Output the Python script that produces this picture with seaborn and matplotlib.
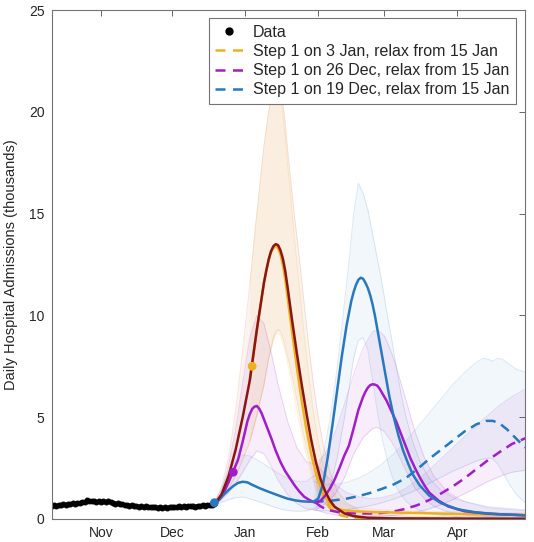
import matplotlib
matplotlib.use("Agg")
import matplotlib.pyplot as plt
import matplotlib.dates as mdates
from matplotlib.lines import Line2D
import pandas as pd
import seaborn as sns

sns.set_style("white")
plt.rcParams["font.family"] = ["Liberation Sans", "DejaVu Sans"]

base = pd.Timestamp("2020-10-11")

# observed daily admissions (thousands), one per day from 11 Oct
data_vals = [0.64, 0.68, 0.66, 0.70, 0.68, 0.72, 0.70, 0.74, 0.72, 0.77,
             0.75, 0.80, 0.78, 0.85, 0.82, 0.92, 0.88, 0.86, 0.90, 0.84,
             0.87, 0.82, 0.86, 0.83, 0.88, 0.84, 0.80, 0.76, 0.78, 0.74,
             0.72, 0.68, 0.70, 0.66, 0.68, 0.63, 0.66, 0.61, 0.64, 0.60,
             0.62, 0.58, 0.61, 0.57, 0.60, 0.56, 0.59, 0.55, 0.58, 0.56,
             0.59, 0.57, 0.61, 0.58, 0.62, 0.59, 0.63, 0.60, 0.65, 0.62,
             0.64, 0.61, 0.66, 0.63, 0.67, 0.65, 0.69, 0.67, 0.71, 0.73]

# model curves, x = days since 11 Oct
red_days = [0, 7, 14, 21, 28, 35, 42, 49, 56, 63, 69, 72, 75, 78, 81, 84, 87, 90, 91, 92,
            93, 94, 95, 96, 97, 98, 99, 100, 102, 104, 106, 108, 110, 112, 114, 116, 118, 120, 124, 128,
            134, 145, 201]
red_vals = [0.64, 0.73, 0.84, 0.86, 0.77, 0.66, 0.60, 0.57, 0.61, 0.64, 0.72, 1.2, 2.1, 3.4, 5.0, 6.8, 9.3, 11.6, 12.2, 12.75,
            13.15, 13.4, 13.5, 13.45, 13.2, 12.8, 12.2, 11.4, 9.7, 8.1, 6.6, 5.2, 3.9, 2.8, 1.95, 1.35, 0.9, 0.6, 0.28, 0.14,
            0.06, 0.03, 0.01]

yel_days = [84, 87, 90, 91, 92, 93, 94, 95, 96, 97, 98, 99, 100, 102, 104, 106, 108, 110, 112, 114,
            116, 118, 120, 124, 130, 140, 160, 180, 201]
yel_vals = [6.8, 9.3, 11.6, 12.2, 12.7, 13.1, 13.3, 13.42, 13.3, 13.0, 12.5, 11.8, 10.9, 9.1, 7.4, 5.8, 4.4, 3.2, 2.25, 1.55,
            1.05, 0.72, 0.55, 0.42, 0.37, 0.33, 0.28, 0.23, 0.2]
yel_dash_days = [112, 114, 116, 118, 120, 123, 127, 135, 150, 201]
yel_dash_vals = [2.25, 1.45, 0.9, 0.55, 0.32, 0.16, 0.07, 0.03, 0.01, 0.0]

pur_days = [69, 71, 73, 75, 77, 79, 81, 83, 84, 85, 86, 87, 88, 89, 90, 91, 93, 95, 97, 99,
            101, 103, 105, 107, 109, 111, 112, 114, 116, 118, 120, 122, 124, 126, 128, 130, 132, 133, 134, 135,
            136, 137, 138, 139, 140, 142, 144, 146, 148, 150, 152, 154, 156, 158, 160, 164, 168, 175, 185, 201]
pur_vals = [0.72, 0.95, 1.3, 1.8, 2.35, 2.9, 3.8, 4.8, 5.15, 5.4, 5.52, 5.55, 5.42, 5.2, 4.9, 4.6, 4.0, 3.35, 2.8, 2.35,
            2.0, 1.65, 1.35, 1.1, 0.95, 0.83, 0.8, 0.9, 1.15, 1.5, 1.95, 2.5, 3.1, 3.6, 4.45, 5.35, 6.0, 6.25, 6.45, 6.57,
            6.62, 6.6, 6.55, 6.4, 6.2, 5.8, 5.3, 4.8, 4.2, 3.6, 3.0, 2.5, 2.05, 1.65, 1.3, 0.9, 0.62, 0.38, 0.26, 0.18]
pur_dash_days = [112, 114, 116, 118, 121, 125, 130, 135, 140, 145, 150, 155, 160, 165, 170, 175, 180, 185, 190, 195, 201]
pur_dash_vals = [0.8, 0.62, 0.5, 0.42, 0.35, 0.3, 0.27, 0.27, 0.3, 0.37, 0.5, 0.68, 0.93, 1.25, 1.6, 2.0, 2.45, 2.9, 3.3, 3.68, 3.98]

blu_days = [69, 71, 73, 75, 77, 79, 81, 83, 85, 88, 91, 94, 97, 100, 103, 106, 109, 111, 113, 115,
            117, 119, 121, 123, 125, 127, 128, 129, 130, 131, 132, 133, 134, 135, 136, 137, 139, 141, 143, 145,
            147, 149, 151, 153, 156, 160, 165, 172, 180, 190, 201]
blu_vals = [0.75, 0.95, 1.2, 1.42, 1.62, 1.77, 1.83, 1.8, 1.68, 1.52, 1.38, 1.25, 1.12, 1.0, 0.92, 0.87, 0.85, 0.85, 1.0, 1.7,
            3.0, 4.6, 6.3, 8.0, 9.5, 10.7, 11.15, 11.5, 11.75, 11.85, 11.8, 11.6, 11.35, 11.0, 10.55, 10.0, 8.7, 7.4, 6.1, 5.0,
            4.1, 3.35, 2.75, 2.2, 1.65, 1.15, 0.78, 0.48, 0.32, 0.23, 0.18]
blu_dash_days = [111, 115, 120, 125, 130, 135, 140, 145, 150, 155, 160, 165, 170, 175, 180, 184, 187, 190, 193, 196, 199, 201]
blu_dash_vals = [0.85, 0.87, 0.92, 1.0, 1.12, 1.28, 1.48, 1.7, 2.0, 2.45, 2.95, 3.4, 3.85, 4.3, 4.65, 4.82, 4.82, 4.68, 4.4, 4.05, 3.7, 3.5]

# uncertainty bands
red_band_days = [69, 72, 75, 78, 81, 84, 87, 90, 92, 94, 95, 96, 97, 98, 99, 101, 103, 105, 107, 109,
                 111, 113, 115, 118, 121, 125, 130, 140, 160, 201]
red_band_lo = [0.68, 1.0, 1.5, 2.1, 2.9, 3.8, 5.1, 6.6, 7.9, 8.9, 9.2, 9.3, 9.2, 8.9, 8.5, 7.5, 6.4, 5.2, 4.0, 3.0,
               2.1, 1.4, 0.9, 0.5, 0.28, 0.12, 0.05, 0.02, 0.01, 0.0]
red_band_hi = [0.78, 1.6, 3.0, 5.3, 8.3, 11.5, 15.0, 18.3, 20.0, 21.2, 21.8, 22.0, 21.5, 20.5, 19.4, 17.0, 14.8, 12.8, 10.6, 8.5,
               6.6, 5.0, 3.7, 2.3, 1.4, 0.8, 0.45, 0.2, 0.1, 0.05]

yel_band_days = [84, 87, 90, 92, 94, 95, 96, 97, 98, 99, 101, 103, 105, 107, 109, 111, 113, 115, 118, 121,
                 125, 130, 140, 160, 201]
yel_band_lo = [3.8, 5.1, 6.6, 7.9, 8.8, 9.1, 9.15, 9.0, 8.6, 8.2, 7.1, 5.9, 4.7, 3.6, 2.6, 1.8, 1.2, 0.8, 0.45, 0.3,
               0.2, 0.17, 0.15, 0.12, 0.1]
yel_band_hi = [11.5, 15.0, 18.3, 20.0, 21.0, 21.5, 21.6, 21.0, 19.9, 18.7, 16.2, 13.7, 11.4, 9.1, 7.0, 5.2, 3.8, 2.7, 1.6, 1.0,
               0.7, 0.55, 0.45, 0.38, 0.3]

pur_band_days = [69, 72, 75, 78, 81, 84, 87, 90, 93, 96, 100, 104, 108, 112, 116, 120, 124, 128, 132, 136,
                 138, 141, 144, 146, 150, 154, 158, 162, 168, 175, 185, 201]
pur_band_lo = [0.68, 0.95, 1.3, 1.75, 2.3, 2.9, 3.35, 3.2, 2.6, 1.9, 1.2, 0.75, 0.5, 0.45, 0.75, 1.2, 2.0, 3.2, 4.0, 4.45,
               4.5, 4.3, 3.8, 3.4, 2.4, 1.5, 1.0, 0.62, 0.35, 0.2, 0.12, 0.08]
pur_band_hi = [0.78, 1.4, 2.6, 4.4, 6.7, 8.9, 10.0, 9.6, 8.2, 6.6, 4.8, 3.5, 2.8, 2.7, 3.2, 4.2, 5.6, 7.1, 8.4, 9.2,
               9.3, 9.0, 8.2, 7.5, 5.9, 4.3, 3.0, 2.1, 1.3, 0.85, 0.55, 0.4]
pur_dash_band_days = [112, 116, 120, 125, 130, 135, 140, 145, 150, 155, 160, 165, 170, 175, 180, 185, 190, 195, 201]
pur_dash_band_lo = [0.45, 0.3, 0.2, 0.14, 0.12, 0.12, 0.14, 0.18, 0.25, 0.35, 0.5, 0.7, 0.95, 1.25, 1.55, 1.85, 2.1, 2.3, 2.4]
pur_dash_band_hi = [2.7, 2.2, 1.7, 1.3, 1.1, 1.0, 1.05, 1.2, 1.5, 1.9, 2.4, 2.95, 3.5, 4.05, 4.6, 5.1, 5.6, 6.0, 6.4]

blu_band_days = [69, 72, 75, 78, 81, 84, 88, 92, 96, 100, 104, 108, 112, 115, 118, 121, 124, 126, 128, 130,
                 132, 134, 136, 138, 140, 142, 144, 146, 148, 150, 153, 156, 160, 165, 172, 185, 201]
blu_band_lo = [0.7, 0.82, 0.95, 1.05, 1.08, 1.0, 0.85, 0.68, 0.52, 0.42, 0.38, 0.4, 0.55, 0.85, 1.6, 3.0, 4.9, 6.4, 7.9, 8.8,
               8.9, 8.3, 6.8, 5.3, 4.0, 3.0, 2.2, 1.6, 1.2, 0.9, 0.6, 0.42, 0.28, 0.18, 0.12, 0.08, 0.06]
blu_band_hi = [0.8, 1.5, 2.3, 2.9, 3.15, 3.1, 2.85, 2.55, 2.25, 2.0, 1.85, 1.85, 2.2, 3.1, 4.9, 7.4, 10.5, 12.6, 15.0, 16.5,
               16.0, 15.2, 14.0, 12.8, 11.6, 10.2, 8.9, 7.5, 6.2, 5.1, 3.8, 2.85, 2.0, 1.4, 0.95, 0.6, 0.45]
blu_dash_band_days = [111, 115, 120, 125, 130, 135, 140, 145, 150, 155, 160, 165, 170, 175, 180, 183, 185, 187, 189, 191,
                      194, 197, 201]
blu_dash_band_lo = [0.42, 0.4, 0.42, 0.47, 0.55, 0.65, 0.8, 0.98, 1.2, 1.45, 1.75, 2.05, 2.35, 2.6, 2.85, 2.95, 3.0, 2.95, 2.7, 2.3,
                    1.7, 1.2, 0.75]
blu_dash_band_hi = [1.85, 1.7, 1.7, 1.8, 2.0, 2.3, 2.7, 3.2, 3.8, 4.5, 5.2, 5.9, 6.6, 7.2, 7.7, 7.9, 7.85, 7.75, 7.9, 7.85,
                    7.6, 7.35, 7.2]

# step-1 markers
step_days = [85, 77, 69]
step_vals = [7.5, 2.3, 0.8]

labels = ["Step 1 on 3 Jan, relax from 15 Jan",
          "Step 1 on 26 Dec, relax from 15 Jan",
          "Step 1 on 19 Dec, relax from 15 Jan"]

c_yel = "#EDB120"
c_pur = "#A21CC9"
c_blu = "#2878BE"
c_red = "#8B1414"
c_band_red = "#D0602A"
dash = (0, (4, 2.5))


def to_dates(days):
    return base + pd.to_timedelta(days, unit="D")


fig = plt.figure(figsize=(5.34, 5.42), dpi=100)
ax = fig.add_axes([51.5 / 534, 23 / 542, 473.5 / 534, 509 / 542])


def band(days, lo, hi, color, alpha=0.1):
    d = to_dates(days)
    ax.fill_between(d, lo, hi, color=color, alpha=alpha, lw=0, zorder=1)
    sns.lineplot(x=d, y=lo, ax=ax, color=color, alpha=0.16, lw=0.7, zorder=1)
    sns.lineplot(x=d, y=hi, ax=ax, color=color, alpha=0.16, lw=0.7, zorder=1)


band(red_band_days, red_band_lo, red_band_hi, c_band_red, 0.07)
band(yel_band_days, yel_band_lo, yel_band_hi, c_yel, 0.07)
band(pur_band_days, pur_band_lo, pur_band_hi, c_pur, 0.07)
band(pur_dash_band_days, pur_dash_band_lo, pur_dash_band_hi, c_pur, 0.07)
band(blu_band_days, blu_band_lo, blu_band_hi, c_blu, 0.06)
band(blu_dash_band_days, blu_dash_band_lo, blu_dash_band_hi, c_blu, 0.06)

lw = 1.8
sns.lineplot(x=to_dates(yel_dash_days), y=yel_dash_vals, ax=ax, color=c_yel, lw=lw, linestyle=dash)
sns.lineplot(x=to_dates(pur_dash_days), y=pur_dash_vals, ax=ax, color=c_pur, lw=lw, linestyle=dash)
sns.lineplot(x=to_dates(blu_dash_days), y=blu_dash_vals, ax=ax, color=c_blu, lw=lw, linestyle=dash)
sns.lineplot(x=to_dates(yel_days), y=yel_vals, ax=ax, color=c_yel, lw=lw)
sns.lineplot(x=to_dates(pur_days), y=pur_vals, ax=ax, color=c_pur, lw=lw)
sns.lineplot(x=to_dates(blu_days), y=blu_vals, ax=ax, color=c_blu, lw=lw)
sns.lineplot(x=to_dates(red_days), y=red_vals, ax=ax, color=c_red, lw=lw)

data_dates = to_dates(list(range(len(data_vals))))
sns.lineplot(x=data_dates, y=data_vals, ax=ax, color="k", lw=2.2, marker="o",
             markersize=3.5, markeredgecolor="k")

sns.scatterplot(x=to_dates(step_days), y=step_vals, ax=ax, hue=[0, 1, 2],
                palette=[c_yel, c_pur, c_blu], s=40, edgecolor="none", legend=False, zorder=5)

ax.set_xlim(base, base + pd.Timedelta(days=200.6))
ax.set_ylim(0, 25)
ax.set_yticks([0, 5, 10, 15, 20, 25])
ax.xaxis.set_major_locator(mdates.MonthLocator())
ax.xaxis.set_major_formatter(mdates.DateFormatter("%b"))
ax.set_xlabel("")
ax.set_ylabel("Daily Hospital Admissions (thousands)", fontsize=10.5, color="#262626", labelpad=8)
ax.tick_params(direction="in", top=True, right=True, length=4, width=0.7, color="0.4",
               labelsize=10, labelcolor="#262626", pad=5)
for sp in ax.spines.values():
    sp.set_visible(True)
    sp.set_color("0.45")
    sp.set_linewidth(0.8)

handles = [Line2D([], [], marker="o", ls="none", color="k", markersize=5)]
for c in [c_yel, c_pur, c_blu]:
    handles.append(Line2D([], [], color=c, lw=lw, linestyle=(0, (4, 3))))
leg = ax.legend(handles, ["Data"] + labels, loc="upper right", bbox_to_anchor=(0.981, 0.984),
                borderaxespad=0, frameon=True, fancybox=False, edgecolor="0.45", framealpha=1,
                fontsize=11.5, handlelength=1.8, handletextpad=0.6, labelspacing=0.27, borderpad=0.4)
leg.get_frame().set_linewidth(0.8)
leg.set_zorder(10)

fig.savefig("out.png", dpi=100)
